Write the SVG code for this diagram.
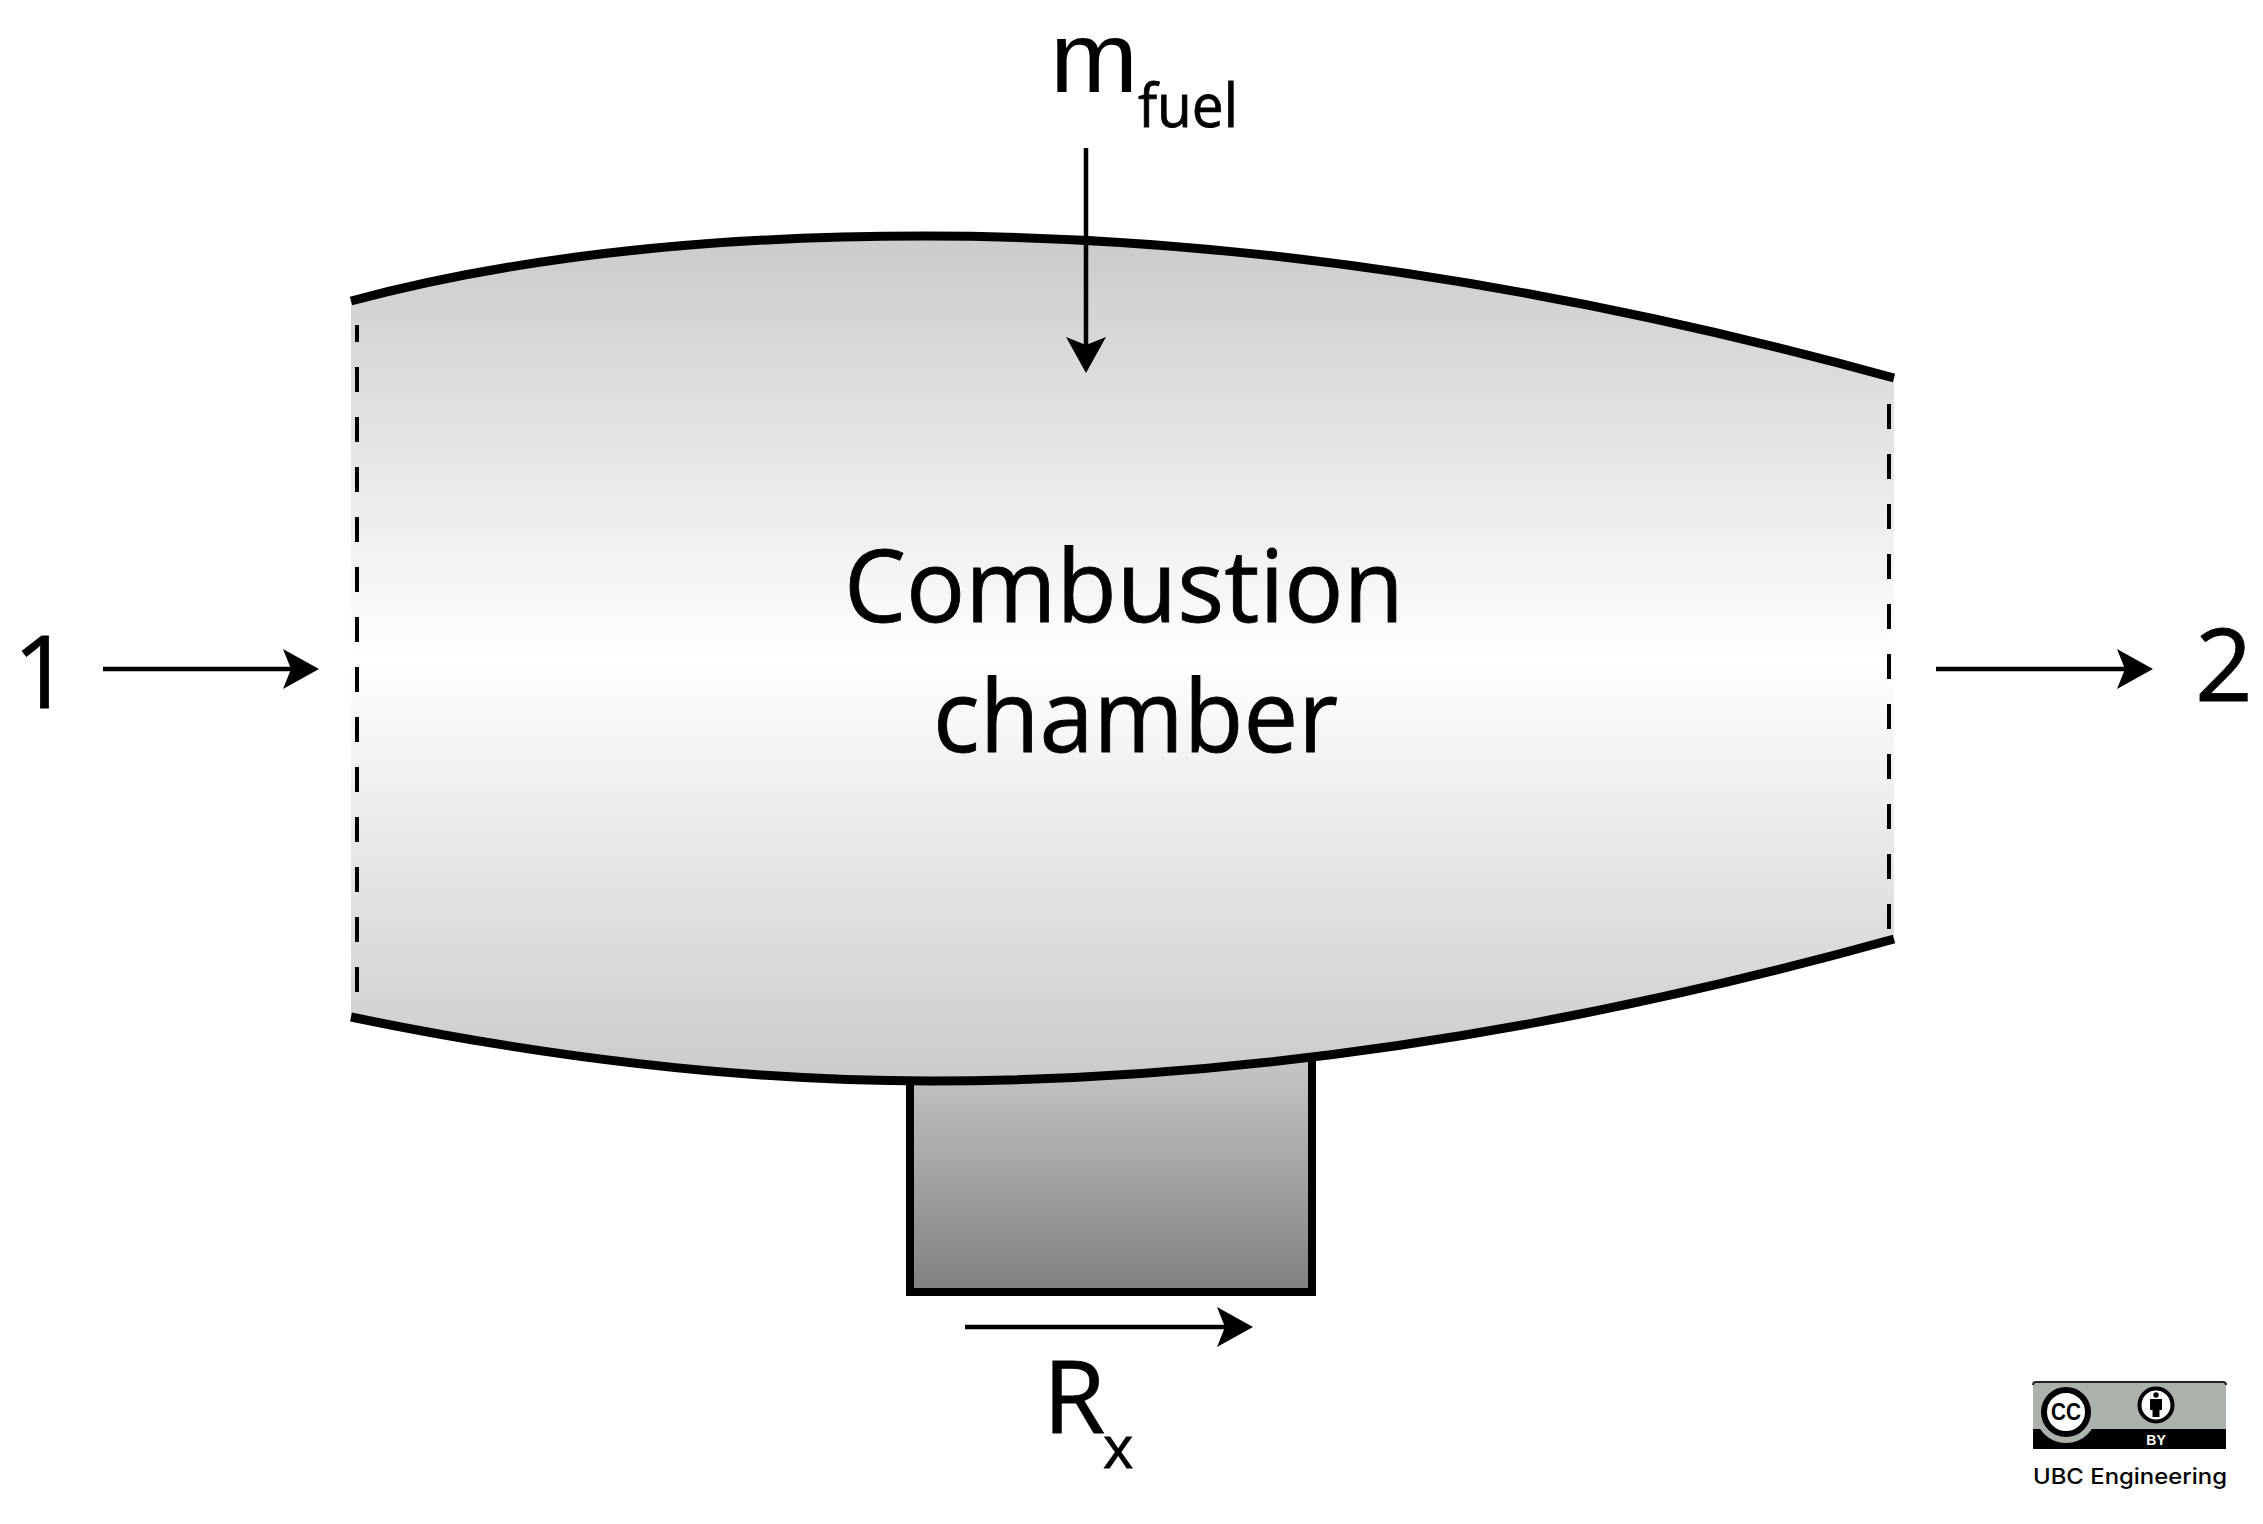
<svg xmlns="http://www.w3.org/2000/svg" width="2263" height="1524" viewBox="0 0 2263 1524">
<style>
.t{font-family:"Open Sans","Noto Sans","Liberation Sans",sans-serif;fill:#000;stroke:#000;stroke-width:.8}
.wall{fill:none;stroke:#000;stroke-width:9}
.dash{fill:none;stroke:#000;stroke-width:4;stroke-dasharray:25 25}
.arr{fill:none;stroke:#000;stroke-width:4.5;marker-end:url(#head)}
.cc{font-family:"Liberation Sans",Arial,sans-serif;font-weight:700}
</style>
<defs>
<linearGradient id="chamberFill" gradientUnits="userSpaceOnUse" x1="0" y1="236" x2="0" y2="1081">
<stop offset="0" stop-color="#cbcbcb"/><stop offset="0.5" stop-color="#fff"/><stop offset="1" stop-color="#cbcbcb"/>
</linearGradient>
<linearGradient id="blockFill" gradientUnits="userSpaceOnUse" x1="0" y1="1060" x2="0" y2="1292">
<stop offset="0" stop-color="#c6c6c6"/><stop offset="1" stop-color="#808080"/>
</linearGradient>
<marker id="head" viewBox="0 0 36 40" refX="8" refY="20" markerWidth="36" markerHeight="40" markerUnits="userSpaceOnUse" orient="auto">
<path d="M36,20 L0,0 L8,20 L0,40 Z" fill="#000"/>
</marker>
</defs>
<rect width="2263" height="1524" fill="#fff"/>
<g id="thrust-block">
<path d="M910,1060 V1292 H1312 V1050" fill="url(#blockFill)" stroke="#000" stroke-width="8"/>
</g>
<g id="combustion-chamber">
<path d="M351,301 C530,253 730,236 925,236 C1270,236 1600,297 1894,378 V939 C1600,1021 1270,1081 930,1081 C730,1081 530,1054 351,1017 Z" fill="url(#chamberFill)"/>
<path class="wall" d="M351,301 C530,253 730,236 925,236 C1270,236 1600,297 1894,378"/>
<path class="wall" d="M351,1017 C530,1054 730,1081 930,1081 C1270,1081 1600,1021 1894,939"/>
<path class="dash" d="M357,325 V995" stroke-dashoffset="8"/>
<path class="dash" d="M1889,404 V930"/>
<text class="t" x="844" y="622" font-size="101" textLength="560" lengthAdjust="spacingAndGlyphs">Combustion</text>
<text class="t" x="933" y="752" font-size="101" textLength="405" lengthAdjust="spacingAndGlyphs">chamber</text>
</g>
<g id="connectors">
<line class="arr" x1="1086" y1="148" x2="1086" y2="345"/>
<line class="arr" x1="103" y1="669" x2="291" y2="669"/>
<line class="arr" x1="1936" y1="669" x2="2125" y2="669"/>
<line class="arr" x1="965" y1="1327" x2="1225" y2="1327"/>
</g>
<g id="label-mfuel">
<text x="1050" y="92" font-size="100" textLength="88" lengthAdjust="spacingAndGlyphs" font-family="Liberation Sans, Arial, sans-serif" fill="#000">m</text>
<text class="t" x="1138" y="127" font-size="60" textLength="100" lengthAdjust="spacingAndGlyphs">fuel</text>
</g>
<g id="label-1"><text class="t" x="13" y="708" font-size="101">1</text></g>
<g id="label-2"><text class="t" x="2195" y="701" font-size="101">2</text></g>
<g id="label-rx">
<text class="t" x="1043" y="1433" font-size="101">R</text>
<text class="t" x="1103" y="1468" font-size="58">x</text>
</g>
<g id="cc-badge">
<rect x="2034" y="1383" width="191" height="65" rx="3" fill="#aab2ab" stroke="#222" stroke-width="2"/>
<path d="M2033,1429 H2226 V1449 H2033 Z" fill="#000"/>
<circle cx="2066" cy="1412" r="31" fill="#aab2ab"/>
<path d="M2033,1382 h193 v47 H2033 Z" fill="#aab2ab"/>
<path d="M2033,1385 a3,3 0 0 1 3,-3 H2223 a3,3 0 0 1 3,3" fill="none" stroke="#222" stroke-width="2"/>
<circle cx="2066" cy="1412" r="22" fill="#fff" stroke="#000" stroke-width="6"/>
<text class="cc" x="2066" y="1420" font-size="23" text-anchor="middle" textLength="30" lengthAdjust="spacingAndGlyphs">CC</text>
<circle cx="2156" cy="1405" r="16.5" fill="#fff" stroke="#000" stroke-width="4"/>
<circle cx="2156" cy="1395" r="2.7" fill="#000"/>
<path d="M2150,1399 h12 v11 h-2.5 v7 h-7 v-7 h-2.5 Z" fill="#000"/>
<text class="cc" x="2156" y="1445" font-size="14" fill="#fff" text-anchor="middle">BY</text>
<text x="2033" y="1484" font-size="22" font-weight="500" textLength="194" lengthAdjust="spacingAndGlyphs" font-family="Inter, Liberation Sans, sans-serif" fill="#000">UBC Engineering</text>
</g>
</svg>
